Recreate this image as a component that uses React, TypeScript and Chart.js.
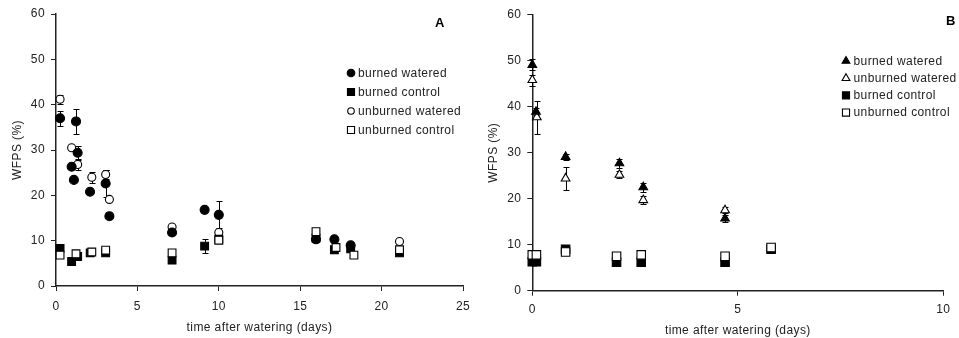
import React, { useEffect, useRef } from "react";
import { Chart, registerables } from "chart.js";
Chart.register(...registerables);

// ---------- shared ticks ----------
const yTicks = [0, 10, 20, 30, 40, 50, 60];
const aXTicks = [0, 5, 10, 15, 20, 25];
const bXTicks = [0, 5, 10];

// ---------- Panel A ----------
const aLabels = ["burned watered", "burned control", "unburned watered", "unburned control"];
const aBurnedWateredX = [0.25, 0.96, 1.1, 1.23, 1.33, 2.09, 3.05, 3.28, 7.13, 9.13, 10.0, 15.97, 17.1, 18.1];
const aBurnedWateredY = [37.0, 26.3, 23.4, 36.3, 29.4, 20.8, 22.6, 15.4, 11.8, 16.8, 15.7, 10.3, 10.3, 9.0];
const aBurnedWateredErr = [1.7, 0, 0, 2.8, 1.5, 0, 2.9, 0, 0, 0, 3.0, 0, 0, 0];

const aBurnedControlX = [0.25, 0.96, 1.33, 2.1, 3.05, 7.13, 9.13, 10.0, 15.97, 17.1, 18.1, 21.1];
const aBurnedControlY = [8.3, 5.4, 6.5, 7.3, 7.3, 5.7, 8.8, 10.3, 10.6, 8.0, 8.2, 7.3];
const aBurnedControlErr = [0, 0, 0, 0, 0, 0, 1.5, 0, 0, 0, 0, 0];

const aUnburnedWateredX = [0.25, 0.96, 1.33, 2.2, 3.05, 3.28, 7.13, 10.0, 17.15, 21.1];
const aUnburnedWateredY = [41.2, 30.5, 26.8, 24.0, 24.6, 19.1, 13.0, 11.8, 8.2, 9.8];
const aUnburnedWateredErr = [1.0, 0, 1.2, 1.2, 1.0, 0, 0, 0, 0, 0];

const aUnburnedControlX = [0.25, 1.23, 2.2, 3.05, 7.13, 10.0, 15.97, 17.2, 18.3, 21.1];
const aUnburnedControlY = [6.8, 7.1, 7.5, 7.9, 7.3, 10.1, 12.0, 8.5, 6.8, 8.0];

// ---------- Panel B ----------
const bLabels = ["burned watered", "unburned watered", "burned control", "unburned control"];
const bBurnedWateredX = [0, 0.09, 0.81, 2.12, 2.7, 4.69];
const bBurnedWateredY = [49.1, 38.9, 29.1, 27.7, 22.5, 15.7];
const bBurnedWateredErr = [1.2, 0.8, 0.7, 1.0, 1.0, 0.8];

const bUnburnedWateredX = [0, 0.11, 0.81, 2.12, 2.7, 4.69];
const bUnburnedWateredY = [45.8, 37.7, 24.4, 25.2, 19.7, 17.5];
const bUnburnedWateredErr = [1.2, 3.6, 2.6, 0.8, 0.8, 0.6];

const bBurnedControlX = [0, 0.1, 0.81, 2.05, 2.65, 4.69, 5.81];
const bBurnedControlY = [6.3, 6.3, 9.0, 6.2, 6.2, 6.2, 9.0];

const bUnburnedControlX = [0, 0.1, 0.81, 2.05, 2.65, 4.69, 5.81];
const bUnburnedControlY = [7.8, 7.8, 8.4, 7.5, 7.8, 7.5, 9.4];

const FONT = "'Liberation Sans', Arial, sans-serif";
const TEXT = "#222";

function pts(xs: number[], ys: number[]) {
  return xs.map((x, i) => ({ x, y: ys[i] }));
}

function drawMarker(ctx: CanvasRenderingContext2D, style: string, x: number, y: number, r: number, filled: boolean) {
  ctx.beginPath();
  if (style === "circle") {
    ctx.arc(x, y, r, 0, Math.PI * 2);
  } else if (style === "rect") {
    const s = r * Math.SQRT1_2;
    ctx.rect(x - s, y - s, 2 * s, 2 * s);
  } else if (style === "triangle") {
    let rad = 0;
    ctx.moveTo(x + Math.sin(rad) * r, y - Math.cos(rad) * r);
    rad += (2 * Math.PI) / 3;
    ctx.lineTo(x + Math.sin(rad) * r, y - Math.cos(rad) * r);
    rad += (2 * Math.PI) / 3;
    ctx.lineTo(x + Math.sin(rad) * r, y - Math.cos(rad) * r);
    ctx.closePath();
  }
  ctx.fillStyle = filled ? "#000" : "#fff";
  ctx.fill();
  ctx.strokeStyle = "#000";
  ctx.lineWidth = 1.1;
  ctx.stroke();
}

const spacingPlugin = {
  id: "spacing",
  beforeDraw(chart: any) {
    (chart.ctx as any).letterSpacing = "0.4px";
  },
};

const errorBarPlugin = {
  id: "errorBars",
  beforeDatasetsDraw(chart: any) {
    const ctx = chart.ctx;
    const yScale = chart.scales.y;
    ctx.save();
    ctx.strokeStyle = "#000";
    ctx.lineWidth = 1;
    chart.data.datasets.forEach((ds: any, i: number) => {
      const errs: number[] | undefined = ds.errors;
      if (!errs) return;
      const meta = chart.getDatasetMeta(i);
      meta.data.forEach((pt: any, j: number) => {
        const e = errs[j];
        if (!e) return;
        const v = ds.data[j].y;
        const x = Math.round(pt.x) + 0.5;
        const yTop = Math.round(yScale.getPixelForValue(v + e)) + 0.5;
        const yBot = Math.round(yScale.getPixelForValue(v - e)) + 0.5;
        ctx.beginPath();
        ctx.moveTo(x, yTop);
        ctx.lineTo(x, yBot);
        ctx.moveTo(x - 3, yTop);
        ctx.lineTo(x + 3, yTop);
        ctx.moveTo(x - 3, yBot);
        ctx.lineTo(x + 3, yBot);
        ctx.stroke();
      });
    });
    ctx.restore();
  },
};

const decorPlugin = {
  id: "decor",
  afterDraw(chart: any, _args: any, opts: any) {
    const ctx = chart.ctx;
    ctx.save();
    // legend
    const lg = opts.legend;
    ctx.font = `12px ${FONT}`;
    ctx.textBaseline = "middle";
    ctx.textAlign = "left";
    lg.items.forEach((it: any, i: number) => {
      const y = lg.y0 + i * lg.dy;
      drawMarker(ctx, it.style, lg.markerX, y, it.r, it.filled);
      ctx.fillStyle = TEXT;
      ctx.fillText(it.label, lg.textX, y + 0.5);
    });
    // panel letter
    ctx.font = `bold 13px ${FONT}`;
    ctx.textAlign = "center";
    ctx.fillStyle = "#000";
    ctx.fillText(opts.letter.text, opts.letter.x, opts.letter.y);
    ctx.restore();
  },
};

function makeChart(canvas: HTMLCanvasElement, cfg: any) {
  const axisColor = "#222";
  return new Chart(canvas, {
    type: "scatter",
    data: { datasets: cfg.datasets },
    plugins: [spacingPlugin, errorBarPlugin, decorPlugin],
    options: {
      responsive: false,
      animation: false,
      layout: { padding: { left: 0, top: cfg.top, right: cfg.right, bottom: 0 } },
      elements: { point: { hoverRadius: 0 } },
      plugins: {
        legend: { display: false },
        tooltip: { enabled: false },
        decor: { legend: cfg.legend, letter: cfg.letter },
      } as any,
      scales: {
        x: {
          type: "linear",
          min: cfg.xTicks[0],
          max: cfg.xTicks[cfg.xTicks.length - 1],
          afterBuildTicks: (s: any) => {
            s.ticks = cfg.xTicks.map((v: number) => ({ value: v }));
          },
          afterFit: (s: any) => {
            s.height = cfg.xHeight;
            s.paddingLeft = 0;
            s.paddingRight = 0;
          },
          grid: { drawOnChartArea: false, drawTicks: true, tickLength: 5, color: axisColor, lineWidth: 1 },
          border: { display: true, color: axisColor, width: 1.5 },
          ticks: { color: TEXT, font: { size: 12, family: FONT }, padding: cfg.xTickPad, maxRotation: 0 },
          title: {
            display: true,
            text: "time after watering (days)",
            color: TEXT,
            font: { size: 12, family: FONT },
            padding: { top: 0, bottom: cfg.xTitlePad },
          },
        },
        y: {
          type: "linear",
          min: 0,
          max: 60,
          afterBuildTicks: (s: any) => {
            s.ticks = yTicks.map((v) => ({ value: v }));
          },
          afterFit: (s: any) => {
            s.width = cfg.yWidth;
            s.paddingTop = 0;
            s.paddingBottom = 0;
          },
          grid: { drawOnChartArea: false, drawTicks: true, tickLength: 5, color: axisColor, lineWidth: 1 },
          border: { display: true, color: axisColor, width: 1.5 },
          ticks: { color: TEXT, font: { size: 12, family: FONT }, padding: 6 },
          title: {
            display: true,
            text: "WFPS (%)",
            color: TEXT,
            font: { size: 12, family: FONT },
            padding: { top: cfg.yTitlePad, bottom: 0 },
          },
        },
      },
    } as any,
  });
}

function ds(label: string, data: any[], style: string, r: number, filled: boolean, order: number, errors?: number[]) {
  return {
    label,
    data,
    pointStyle: style,
    pointRadius: r,
    pointHoverRadius: r,
    backgroundColor: filled ? "#000" : "#fff",
    borderColor: "#000",
    borderWidth: 1.1,
    showLine: false,
    clip: false,
    order,
    errors,
  };
}

export default function App() {
  const refA = useRef<HTMLCanvasElement>(null);
  const refB = useRef<HTMLCanvasElement>(null);

  useEffect(() => {
    const chartA = makeChart(refA.current!, {
      top: 14,
      right: 17,
      yWidth: 56,
      xHeight: 52,
      xTickPad: 8,
      xTitlePad: 3,
      yTitlePad: 10,
      xTicks: aXTicks,
      datasets: [
        ds(aLabels[0], pts(aBurnedWateredX, aBurnedWateredY), "circle", 4.5, true, 2, aBurnedWateredErr),
        ds(aLabels[1], pts(aBurnedControlX, aBurnedControlY), "rect", 5.5, true, 1, aBurnedControlErr),
        ds(aLabels[2], pts(aUnburnedWateredX, aUnburnedWateredY), "circle", 4, false, 3, aUnburnedWateredErr),
        ds(aLabels[3], pts(aUnburnedControlX, aUnburnedControlY), "rect", 5.5, false, 0),
      ],
      legend: {
        markerX: 351,
        textX: 358,
        y0: 73,
        dy: 19,
        items: [
          { label: aLabels[0], style: "circle", r: 3.8, filled: true },
          { label: aLabels[1], style: "rect", r: 5, filled: true },
          { label: aLabels[2], style: "circle", r: 3.3, filled: false },
          { label: aLabels[3], style: "rect", r: 5, filled: false },
        ],
      },
      letter: { text: "A", x: 440, y: 23 },
    });
    const chartB = makeChart(refB.current!, {
      top: 14.7,
      right: 15.7,
      yWidth: 52.3,
      xHeight: 47.3,
      xTickPad: 7,
      xTitlePad: 0,
      yTitlePad: 6,
      xTicks: bXTicks,
      datasets: [
        ds(bLabels[0], pts(bBurnedWateredX, bBurnedWateredY), "triangle", 5, true, 2, bBurnedWateredErr),
        ds(bLabels[1], pts(bUnburnedWateredX, bUnburnedWateredY), "triangle", 5, false, 3, bUnburnedWateredErr),
        ds(bLabels[2], pts(bBurnedControlX, bBurnedControlY), "rect", 6, true, 1),
        ds(bLabels[3], pts(bUnburnedControlX, bUnburnedControlY), "rect", 6, false, 0),
      ],
      legend: {
        markerX: 366,
        textX: 373.5,
        y0: 61,
        dy: 17.2,
        items: [
          { label: bLabels[0], style: "triangle", r: 4.5, filled: true },
          { label: bLabels[1], style: "triangle", r: 4.5, filled: false },
          { label: bLabels[2], style: "rect", r: 5, filled: true },
          { label: bLabels[3], style: "rect", r: 5, filled: false },
        ],
      },
      letter: { text: "B", x: 471, y: 21 },
    });
    return () => {
      chartA.destroy();
      chartB.destroy();
    };
  }, []);

  return (
    <div style={{ position: "absolute", left: 0, top: 0, width: 959, height: 338, background: "#fff" }}>
      <canvas ref={refA} width={480} height={338} style={{ position: "absolute", left: 0, top: 0, width: 480, height: 338 }} />
      <canvas ref={refB} width={479} height={338} style={{ position: "absolute", left: 480, top: 0, width: 479, height: 338 }} />
    </div>
  );
}
